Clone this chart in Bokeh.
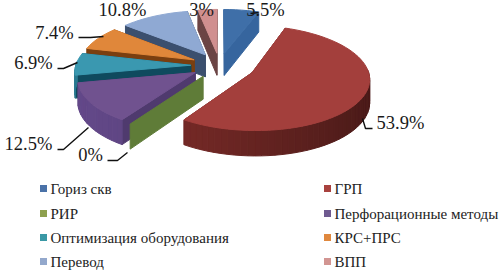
import math
from bokeh.plotting import figure
from bokeh.models import Range1d
from bokeh.core.properties import value
from bokeh.embed import file_html
from bokeh.resources import INLINE

# --- data ---
categories = ["Гориз скв", "ГРП", "РИР", "Перфорационные методы",
              "Оптимизация оборудования", "КРС+ПРС", "Перевод", "ВПП"]
shares = [5.5, 53.9, 0, 12.5, 6.9, 7.4, 10.8, 3]
share_labels = ["5.5%", "53.9%", "0%", "12.5%", "6.9%", "7.4%", "10.8%", "3%"]

# --- style ---
top_colors = ["#3f6fa8", "#a33f3c", "#5f7c38", "#70528f", "#3a98b0", "#e0873a", "#8fa9d3", "#d08f8f"]
legend_colors = ["#4a72a8", "#a8413e", "#8ea04e", "#6f5a90", "#3a98a5", "#e0883e", "#93a8cc", "#d29592"]
radial_colors = ["#36659e", "#6b2522", "#5f7c38", "#4f3a6e", "#0f4a5e", "#7a3f10", "#3b4f6e", "#6b4444"]
wall_left = ["#36659e", "#802d2a", "#5f7c38", "#64498a", "#2a7a90", "#a86020", "#6a80a0", "#8a5a5a"]
wall_right = ["#2c5585", "#4a1a18", "#5f7c38", "#4f3a6e", "#1f6075", "#804a18", "#50657f", "#6b4444"]
explode = [0.25, 0.3125, 0.25, 0.25, 0.25, 0.25, 0.25, 0.25]
draw_order = [7, 0, 6, 5, 4, 3, 2, 1]

# --- layout (pixels of the picture) ---
WIDTH, HEIGHT = 503, 273
CX, CY = 219.0, 65.0
R, A, PERSP, DEPTH = 115.0, 50.5, 0.1, 22.5
label_xy = [(265, 9), (400, 122), (90, 154), (28, 143), (33, 62), (54, 32), (122, 9), (201, 9)]
leaders = [
    [(250, 13), (258, 12)],
    [(362, 118), (365, 128), (372, 128)],
    [(107, 160), (117, 160), (127, 152)],
    [(57, 149), (63, 149), (88, 127)],
    [(57, 68), (63, 68), (77, 62)],
    [(78, 37), (90, 37), (103, 36)],
]
LEG_X = [43, 327]
LEG_Y = [188, 213, 237, 261]
LEG_DX = 7


def hex2rgb(h):
    return tuple(int(h[i:i + 2], 16) for i in (1, 3, 5))


def mix(a, b, t):
    ra, rb = hex2rgb(a), hex2rgb(b)
    return "#%02x%02x%02x" % tuple(round(x + (y - x) * t) for x, y in zip(ra, rb))


def project(u, v):
    """Disc coordinates (unit radius, v towards the viewer) to screen x, y and wall depth."""
    s = 1 / (1 - PERSP * v)
    return (CX + R * u * s, CY + A * v * s, DEPTH * s)


p = figure(width=WIDTH, height=HEIGHT, x_range=Range1d(0, WIDTH), y_range=Range1d(HEIGHT, 0),
           toolbar_location=None, output_backend="svg", min_border=0,
           outline_line_color=None, background_fill_color="white", border_fill_color="white")
p.xaxis.visible = False
p.yaxis.visible = False
p.grid.visible = False

total = sum(shares)
starts = []
acc = 0.0
for s_ in shares:
    starts.append(acc)
    acc += s_


def poly(xs, ys, color):
    p.patch(xs, ys, fill_color=color, line_color=color, line_width=1)


for i in draw_order:
    a0 = 2 * math.pi * starts[i] / total
    a1 = 2 * math.pi * (starts[i] + shares[i]) / total
    mid = (a0 + a1) / 2
    ou, ov = explode[i] * math.sin(mid), -explode[i] * math.cos(mid)

    def rim(a):
        return project(ou + math.sin(a), ov - math.cos(a))

    tip = project(ou, ov)
    n = max(2, int(math.degrees(a1 - a0) / 3))
    angs = [a0 + (a1 - a0) * k / n for k in range(n + 1)]
    pts = [rim(a) for a in angs]
    m = rim(mid)
    inner = (tip[0] + (m[0] - tip[0]) * .5, tip[1] + (m[1] - tip[1]) * .5)

    def wall(pt):
        poly([tip[0], pt[0], pt[0], tip[0]],
             [tip[1], pt[1], pt[1] + pt[2], tip[1] + tip[2]], radial_colors[i])

    def visible(pt):
        dx = pt[0] - tip[0]
        if abs(dx) < 1e-6:
            return False
        ly = tip[1] + (pt[1] - tip[1]) * (inner[0] - tip[0]) / dx
        return inner[1] < ly

    if shares[i] == 0:
        wall(pts[0])
        continue

    for pt in sorted([pts[0], pts[-1]], key=visible):
        wall(pt)
    for k in range(n):
        am = (angs[k] + angs[k + 1]) / 2
        if math.cos(am) < 0.05:
            c = mix(wall_left[i], wall_right[i], (1 + math.sin(am)) / 2)
            q, r = pts[k], pts[k + 1]
            poly([q[0], r[0], r[0], q[0]], [q[1], r[1], r[1] + r[2], q[1] + q[2]], c)
    poly([tip[0]] + [q[0] for q in pts], [tip[1]] + [q[1] for q in pts], top_colors[i])

for line in leaders:
    p.line([q[0] for q in line], [q[1] for q in line], line_color="#111111", line_width=1.4)

p.text([q[0] for q in label_xy], [q[1] for q in label_xy], text=share_labels,
       text_font=value("Liberation Serif"), text_font_size=value("18.5px"),
       text_align="center", text_baseline="middle", text_color="#1a1a1a")

leg_x = [LEG_X[i % 2] for i in range(len(categories))]
leg_y = [LEG_Y[i // 2] for i in range(len(categories))]
p.scatter(leg_x, leg_y, marker="square", size=7, fill_color=legend_colors, line_color=None)
p.text([x + LEG_DX for x in leg_x], leg_y, text=categories,
       text_font=value("Liberation Serif"), text_font_size=value("15px"),
       text_align="left", text_baseline="middle", text_color="#222222")

open("out.html", "w").write(file_html(p, INLINE))
